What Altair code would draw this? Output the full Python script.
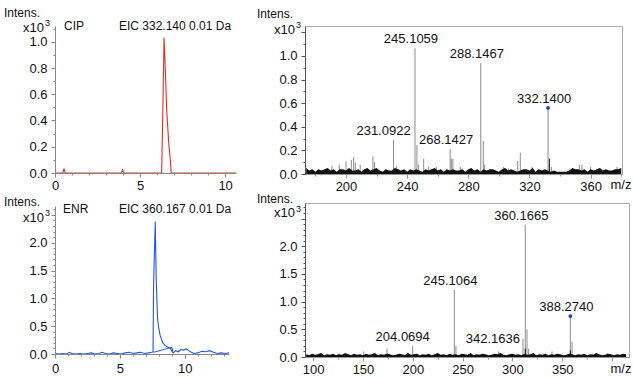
import altair as alt
import pandas as pd

FONT = "Liberation Sans"

# ---------------- data ----------------
# CIP extracted ion chromatogram (time in min, intensity x10^3)
cip_t = [0.0, 0.45, 0.53, 0.6, 3.9, 3.97, 4.05, 6.27, 6.29, 6.35, 6.41, 6.48, 6.57, 6.69, 6.79, 6.83, 10.64]
cip_i = [0.0, 0.0, 0.03, 0.0, 0.0, 0.025, 0.0, 0.0, 0.15, 0.55, 1.03, 0.8, 0.47, 0.22, 0.08, 0.0, 0.0]

# ENR extracted ion chromatogram
enr_t = [0.0, 0.3, 0.6, 0.9, 1.1, 1.3, 1.6, 1.9, 2.2, 2.5, 2.8, 3.1, 3.4, 3.6, 3.9, 4.2, 4.5, 4.8, 5.1, 5.4,
         5.7, 6.0, 6.3, 6.6, 6.9, 7.2, 7.45, 7.55, 7.59, 7.72, 7.8, 7.9, 8.0, 8.1, 8.3, 8.5, 8.7, 8.9, 9.0, 9.1,
         9.3, 9.5, 9.7, 9.9, 10.1, 10.3, 10.5, 10.7, 11.0, 11.3, 11.6, 11.9, 12.2, 12.5, 12.8, 13.1, 13.4]
enr_i = [0.01, 0.0, 0.01, 0.0, 0.03, 0.01, 0.0, 0.01, 0.0, 0.01, 0.02, 0.0, 0.01, 0.03, 0.01, 0.0, 0.02, 0.01, 0.0, 0.02,
         0.03, 0.01, 0.02, 0.03, 0.01, 0.02, 0.03, 0.04, 1.22, 2.38, 1.3, 0.63, 0.45, 0.33, 0.2, 0.15, 0.12, 0.1, 0.05, 0.02,
         0.06, 0.04, 0.08, 0.07, 0.09, 0.06, 0.03, 0.01, 0.02, 0.05, 0.04, 0.06, 0.03, 0.01, 0.02, 0.01, 0.02]
enr2_t = [7.6, 9.0, 9.08]
enr2_i = [0.03, 0.12, 0.04]

# MS spectrum of CIP (m/z, intensity x10^3)
tr_peak_mz = [173.6, 190.8, 195.6, 200.0, 203.5, 205.0, 206.1, 209.3, 217.6, 218.7, 231.09, 232.9, 245.11, 246.4,
              247.5, 250.8, 254.1, 259.0, 268.14, 268.9, 269.9, 274.7, 288.15, 289.8, 290.7, 303.1, 306.4, 312.3,
              314.0, 321.6, 332.14, 334.3, 352.6, 354.3, 359.8, 377.2]
tr_peak_int = [0.09, 0.07, 0.08, 0.11, 0.12, 0.145, 0.10, 0.08, 0.15, 0.10, 0.29, 0.07, 1.065, 0.245,
               0.08, 0.13, 0.06, 0.06, 0.21, 0.13, 0.13, 0.06, 0.94, 0.28, 0.08, 0.06, 0.05, 0.11,
               0.18, 0.06, 0.56, 0.06, 0.08, 0.08, 0.06, 0.06]
tr_dark_mz = [333.0]
tr_dark_int = [0.13]
tr_noise_start, tr_noise_step = 174, 2
tr_noise = [0.05, 0.03, 0.04, 0.02, 0.04, 0.03, 0.04, 0.05, 0.03, 0.04,
            0.02, 0.04, 0.04, 0.03, 0.05, 0.03, 0.03, 0.04, 0.02, 0.04,
            0.05, 0.03, 0.04, 0.05, 0.03, 0.02, 0.04, 0.03, 0.03, 0.05,
            0.04, 0.03, 0.04, 0.02, 0.04, 0.03, 0.04, 0.03, 0.02, 0.04,
            0.03, 0.04, 0.05, 0.03, 0.04, 0.02, 0.04, 0.03, 0.04, 0.03,
            0.03, 0.04, 0.02, 0.04, 0.05, 0.03, 0.04, 0.02, 0.04, 0.03,
            0.04, 0.04, 0.03, 0.02, 0.04, 0.05, 0.03, 0.04, 0.03, 0.02,
            0.03, 0.04, 0.04, 0.03, 0.05, 0.02, 0.04, 0.03, 0.04, 0.03,
            0.02, 0.03, 0.02, 0.02, 0.02, 0.02, 0.03, 0.05, 0.04, 0.04,
            0.03, 0.04, 0.02, 0.04, 0.03, 0.04, 0.05, 0.03, 0.04, 0.03,
            0.03, 0.04, 0.04, 0.05]
tr_label_mz = [245.11, 288.15, 332.14, 268.14]
tr_label_text = ["245.1059", "288.1467", "332.1400", "268.1427"]
tr_label_left_mz = [231.09]
tr_label_left_text = ["231.0922"]
tr_precursor_mz = [332.14]

# MS spectrum of ENR
br_peak_mz = [105.6, 125.0, 135.7, 150.7, 174.1, 199.9, 241.7, 243.3, 286.2, 310.6, 312.9, 314.6, 316.3,
              339.7, 358.1, 359.8, 380.0, 395.0]
br_peak_int = [0.07, 0.06, 0.05, 0.10, 0.155, 0.2, 1.21, 0.2, 0.1, 0.33, 2.39, 0.5, 0.15,
               0.1, 0.74, 0.28, 0.06, 0.07]
br_dark_mz = [312.9, 358.1]
br_dark_int = [0.15, 0.12]
br_noise_start, br_noise_step = 93, 3
br_noise = [0.05, 0.03, 0.06, 0.04, 0.05, 0.07, 0.03, 0.05, 0.04, 0.06,
            0.03, 0.05, 0.04, 0.07, 0.05, 0.03, 0.06, 0.04, 0.05, 0.03,
            0.06, 0.04, 0.05, 0.07, 0.03, 0.05, 0.04, 0.06, 0.05, 0.03,
            0.04, 0.06, 0.05, 0.03, 0.07, 0.04, 0.05, 0.06, 0.03, 0.05,
            0.04, 0.06, 0.03, 0.05, 0.07, 0.04, 0.05, 0.03, 0.06, 0.04,
            0.05, 0.03, 0.06, 0.05, 0.04, 0.07, 0.03, 0.05, 0.04, 0.06,
            0.05, 0.03, 0.04, 0.06, 0.05, 0.07, 0.04, 0.03, 0.05, 0.06,
            0.04, 0.05, 0.03, 0.06, 0.04, 0.05, 0.07, 0.03, 0.05, 0.04,
            0.06, 0.03, 0.05, 0.04, 0.06, 0.05, 0.03, 0.04, 0.06, 0.05,
            0.03, 0.05, 0.04, 0.06, 0.03, 0.05, 0.04, 0.07, 0.05, 0.03,
            0.04, 0.06, 0.05, 0.03, 0.05, 0.04, 0.06, 0.05]
br_label_mz = [312.9, 241.7, 358.1]
br_label_text = ["360.1665", "245.1064", "388.2740"]
br_label_left_mz = [199.9]
br_label_left_text = ["204.0694"]
br_label_side_mz = [310.6]
br_label_side_text = ["342.1636"]
br_precursor_mz = [358.1]

# axis ticks
tl_x_ticks = [0, 1, 2, 3, 4, 5, 6, 7, 8, 9, 10]
tl_y_ticks = [0.0, 0.1, 0.2, 0.3, 0.4, 0.5, 0.6, 0.7, 0.8, 0.9, 1.0, 1.1]
bl_x_ticks = [0, 1, 2, 3, 4, 5, 6, 7, 8, 9, 10, 11, 12, 13]
bl_y_ticks = [0.0, 0.1, 0.2, 0.3, 0.4, 0.5, 0.6, 0.7, 0.8, 0.9, 1.0, 1.1, 1.2, 1.3, 1.4, 1.5, 1.6, 1.7, 1.8,
              1.9, 2.0, 2.1, 2.2, 2.3, 2.4, 2.5, 2.6]
tr_x_ticks = [180, 200, 220, 240, 260, 280, 300, 320, 340, 360, 380]
tr_y_ticks = [0.0, 0.1, 0.2, 0.3, 0.4, 0.5, 0.6, 0.7, 0.8, 0.9, 1.0, 1.1, 1.2]
br_x_ticks = [100, 125, 150, 175, 200, 225, 250, 275, 300, 325, 350, 375, 400]
br_y_ticks = [0.0, 0.1, 0.2, 0.3, 0.4, 0.5, 0.6, 0.7, 0.8, 0.9, 1.0, 1.1, 1.2, 1.3, 1.4, 1.5, 1.6, 1.7, 1.8,
              1.9, 2.0, 2.1, 2.2, 2.3, 2.4, 2.5, 2.6, 2.7]

# ---------------- helpers ----------------
def multiple(step):
    k = 1.0 / step
    return f"abs(datum.value*{k} - round(datum.value*{k})) < 1e-6"


def make_axis(ticks, step, fmt, vmax, color, pad, minor=2, major=4, **extra):
    test = multiple(step)
    return alt.Axis(
        values=ticks, grid=False,
        labelExpr=f"({test}) && datum.value <= {vmax} ? format(datum.value, '{fmt}') : ''",
        tickSize={"condition": {"test": test, "value": major}, "value": minor},
        labelFont=FONT, labelFontSize=13, labelColor="#111", labelPadding=pad,
        labelOverlap=False, labelFlush=False, domainColor=color, tickColor=color, zindex=1,
        **extra,
    )


def mz_axis(ticks, step, vmax, title_y):
    return make_axis(ticks, step, "d", vmax, "#999", 2, title="m/z", titleX=305, titleY=title_y,
                     titleAlign="left", titleBaseline="middle", titleFont=FONT, titleFontSize=13,
                     titleFontWeight="normal", titleColor="#111")


def text_note(txt, x, y, align="left", size=12):
    return alt.Chart(pd.DataFrame({"t": [txt]})).mark_text(
        align=align, baseline="middle", font=FONT, fontSize=size, color="#111"
    ).encode(x=alt.value(x), y=alt.value(y), text="t:N")


def spectrum(peak_mz, peak_int, dark_mz, dark_int, noise_start, noise_step, noise,
             labels, labels_left, labels_side, precursor, xs, ys, xaxis, yaxis):
    X = alt.X("x:Q", scale=xs, axis=xaxis)
    Y = alt.Y("y:Q", scale=ys, axis=yaxis)
    peaks = pd.DataFrame({"x": peak_mz, "y": peak_int})
    nx = [noise_start + noise_step * k for k in range(len(noise))]
    layers = [
        alt.Chart(peaks).mark_rule(color="#8c8c8c", strokeWidth=1).encode(x=X, y=Y, y2=alt.datum(0)),
        alt.Chart(pd.DataFrame({"x": nx, "y": noise})).mark_area(color="#111", opacity=1).encode(x=X, y=Y),
        alt.Chart(pd.DataFrame({"x": dark_mz, "y": dark_int})).mark_rule(color="#111", strokeWidth=1).encode(
            x=X, y=Y, y2=alt.datum(0)),
    ]

    def lab(mzs, texts, **kw):
        df = pd.DataFrame({"x": mzs, "label": texts}).merge(peaks, on="x")
        return alt.Chart(df).mark_text(font=FONT, fontSize=13, color="#111", **kw).encode(x=X, y=Y, text="label:N")

    layers.append(lab(*labels, align="center", baseline="middle", dx=-4, dy=-9))
    layers.append(lab(*labels_left, align="center", baseline="middle", dx=-10, dy=-9))
    if labels_side is not None:
        layers.append(lab(*labels_side, align="right", baseline="middle", dx=-3, dy=0))
    pdf = peaks[peaks["x"].isin(precursor)]
    layers.append(alt.Chart(pdf).mark_point(filled=True, size=14, color="#1a3fd0", opacity=1).encode(x=X, y=Y))
    return layers


# ---------------- top-left: CIP EIC ----------------
tl_xs = alt.Scale(domain=[0, 10.64], nice=False, zero=False)
tl_ys = alt.Scale(domain=[0, 1.12], nice=False)
tl = alt.layer(
    alt.Chart(pd.DataFrame({"x": cip_t, "y": cip_i})).mark_line(color="#ee2a24", strokeWidth=1.1).encode(
        x=alt.X("x:Q", scale=tl_xs, axis=make_axis(tl_x_ticks, 5, "d", 10, "#888", 2, title=None)),
        y=alt.Y("y:Q", scale=tl_ys, axis=make_axis(tl_y_ticks, 0.2, ".1f", 1.0, "#888", 4, title=None)),
    ),
    text_note("Intens.", -51, -13),
    text_note("x10", -11, 2, align="right", size=13),
    text_note("3", -10, -3, size=9),
    text_note("CIP", 9, 0),
    text_note("EIC 332.140 0.01 Da", 64, 0),
).properties(width=181, height=147, view=alt.ViewBackground(stroke="transparent"))

# ---------------- bottom-left: ENR EIC ----------------
bl_xs = alt.Scale(domain=[0, 13.4], nice=False, zero=False)
bl_ys = alt.Scale(domain=[0, 2.66], nice=False)
blX = alt.X("x:Q", scale=bl_xs, axis=make_axis(bl_x_ticks, 5, "d", 10, "#888", 4, title=None))
blY = alt.Y("y:Q", scale=bl_ys, axis=make_axis(bl_y_ticks, 0.5, ".1f", 2.0, "#888", 4, title=None))
bl = alt.layer(
    alt.Chart(pd.DataFrame({"x": enr2_t, "y": enr2_i})).mark_line(color="#2456e8", strokeWidth=1.1).encode(x=blX, y=blY),
    alt.Chart(pd.DataFrame({"x": enr_t, "y": enr_i})).mark_line(color="#2456e8", strokeWidth=1.1).encode(x=blX, y=blY),
    text_note("Intens.", -51, -4),
    text_note("x10", -11, 12, align="right", size=13),
    text_note("3", -10, 7, size=9),
    text_note("ENR", 8, 3),
    text_note("EIC 360.167 0.01 Da", 64, 3),
).properties(width=174, height=148, view=alt.ViewBackground(stroke="transparent"))

# ---------------- top-right: CIP spectrum ----------------
tr_xs = alt.Scale(domain=[173.2, 380.5], nice=False, zero=False)
tr_ys = alt.Scale(domain=[0, 1.254], nice=False)
tr = alt.layer(
    *spectrum(tr_peak_mz, tr_peak_int, tr_dark_mz, tr_dark_int, tr_noise_start, tr_noise_step, tr_noise,
              (tr_label_mz, tr_label_text), (tr_label_left_mz, tr_label_left_text), None, tr_precursor_mz,
              tr_xs, tr_ys, mz_axis(tr_x_ticks, 40, 360, 10),
              make_axis(tr_y_ticks, 0.2, ".1f", 1.0, "#555", 4, title=None)),
    text_note("Intens.", -48, -12.5),
    text_note("x10", -10, 4, align="right", size=13),
    text_note("3", -9, -1, size=9),
).properties(width=317, height=148)

# ---------------- bottom-right: ENR spectrum ----------------
br_xs = alt.Scale(domain=[91.8, 417], nice=False, zero=False)
br_ys = alt.Scale(domain=[0, 2.78], nice=False)
br = alt.layer(
    *spectrum(br_peak_mz, br_peak_int, br_dark_mz, br_dark_int, br_noise_start, br_noise_step, br_noise,
              (br_label_mz, br_label_text), (br_label_left_mz, br_label_left_text),
              (br_label_side_mz, br_label_side_text), br_precursor_mz,
              br_xs, br_ys, mz_axis(br_x_ticks, 50, 350, 11),
              make_axis(br_y_ticks, 0.5, ".1f", 2.0, "#555", 4, title=None)),
    text_note("Intens.", -48, -4.5),
    text_note("x10", -10, 10, align="right", size=13),
    text_note("3", -9, 6, size=9),
).properties(width=324, height=154)

left_col = alt.vconcat(tl, bl, spacing=33, bounds="flush")
right_col = alt.vconcat(tr, br, spacing=29, bounds="flush")
chart = alt.hconcat(left_col, right_col, spacing=17, bounds="full").properties(
    padding={"left": 3, "top": 6, "right": 0, "bottom": 0}, background="white"
).configure_view(stroke="#aaa", strokeWidth=1)

chart.save("out.html", embed_options={"renderer": "svg", "actions": False})
